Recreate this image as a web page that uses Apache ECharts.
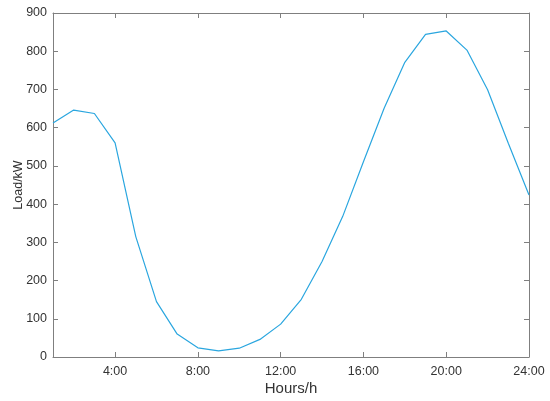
<!DOCTYPE html>
<html><head><meta charset="utf-8">
<script src="https://cdn.jsdelivr.net/npm/echarts@6/dist/echarts.min.js"></script>
<style>html,body{margin:0;padding:0;background:#fff}#c{width:550px;height:401px}</style>
</head><body><div id="c"></div>
<script>
const hours = [1,2,3,4,5,6,7,8,9,10,11,12,13,14,15,16,17,18,19,20,21,22,23,24];
const load = [612,646,637,560,315,145,60,24,16,23,46,86,151,250,368,511,651,771,844,853,803,699,559,424];
const xTicks = [4,8,12,16,20,24];
const xName = 'Hours/h';
const yName = 'Load/kW';

const axisColor = '#7f7f7f';
const textColor = '#333';
const font = 'Liberation Sans, Arial, Helvetica, sans-serif';
const chart = echarts.init(document.getElementById('c'), null, {renderer:'canvas'});
const lineStyle = {color: axisColor, width: 1};
chart.setOption({
  animation: false,
  grid: {left: 53, right: 21, top: 13, bottom: 44, containLabel: false, outerBoundsMode: 'none'},
  xAxis: [{
    type: 'value', min: 1, max: 24, position: 'bottom',
    name: xName, nameLocation: 'middle', nameGap: 24, nameMoveOverlap: false,
    nameTextStyle: {fontFamily: font, fontSize: 15, color: textColor},
    axisLine: {show: true, onZero: false, lineStyle},
    axisTick: {show: true, inside: true, length: 5, lineStyle, customValues: xTicks},
    axisLabel: {show: true, color: textColor, fontFamily: font, fontSize: 12.5, margin: 8,
      customValues: xTicks, formatter: v => v + ':00'},
    splitLine: {show: false}
  },{
    type: 'value', min: 1, max: 24, position: 'top',
    axisLine: {show: true, onZero: false, lineStyle},
    axisTick: {show: true, inside: true, length: 5, lineStyle, customValues: xTicks},
    axisLabel: {show: false},
    splitLine: {show: false}
  }],
  yAxis: [{
    type: 'value', min: 0, max: 900, interval: 100, position: 'left',
    name: yName, nameLocation: 'middle', nameGap: 28, nameMoveOverlap: false,
    nameTextStyle: {fontFamily: font, fontSize: 12.5, color: textColor},
    axisLine: {show: true, onZero: false, lineStyle},
    axisTick: {show: true, inside: true, length: 5, lineStyle},
    axisLabel: {show: true, color: textColor, fontFamily: font, fontSize: 12.5, margin: 6},
    splitLine: {show: false}
  },{
    type: 'value', min: 0, max: 900, interval: 100, position: 'right',
    axisLine: {show: true, onZero: false, lineStyle},
    axisTick: {show: true, inside: true, length: 5, lineStyle},
    axisLabel: {show: false},
    splitLine: {show: false}
  }],
  series: [{
    type: 'line',
    data: hours.map((h, i) => [h, load[i]]),
    showSymbol: false,
    lineStyle: {color: '#2aa6df', width: 1.2},
    itemStyle: {color: '#2aa6df'}
  }]
});
</script></body></html>
